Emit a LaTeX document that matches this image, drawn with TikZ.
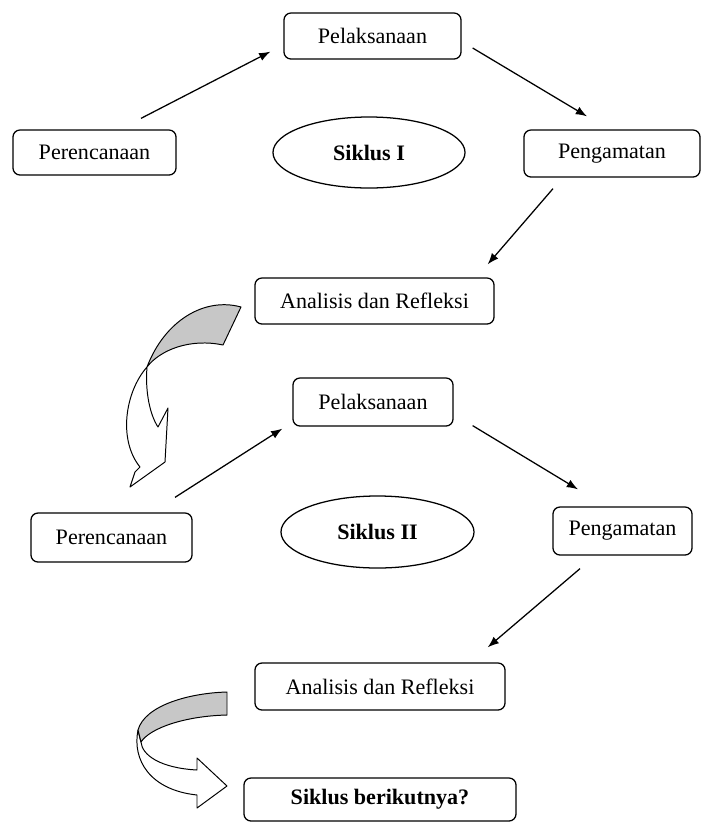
\documentclass[tikz,border=0pt]{standalone}
\usepackage{fontspec}
\setmainfont{Liberation Serif}
\usetikzlibrary{shapes.geometric,arrows.meta}
\tikzset{>={Latex[length=8pt,width=6pt]}}
\tikzset{
  stage/.style={draw,rounded corners=5pt,line width=0.9pt,inner sep=0pt,
    font=\fontsize{15.7}{18}\selectfont},
  siklus/.style={draw,ellipse,line width=0.9pt,inner sep=0pt,
    font=\fontsize{15.7}{18}\selectfont\bfseries},
  flow/.style={->,line width=0.9pt},
  twistgrey/.style={draw,fill=black!22,line width=0.7pt,line join=round},
  twistwhite/.style={draw,fill=white,line width=0.7pt,line join=round}
}

\begin{document}
\begin{tikzpicture}[x=0.025cm,y=-0.025cm]
  \useasboundingbox (0,0) rectangle (702,823);

  % Siklus I
  \node[stage,minimum width=4.425cm,minimum height=1.15cm] (pel1) at (372.5,36) {Pelaksanaan};
  \node[stage,minimum width=4.075cm,minimum height=1.125cm] (ren1) at (94.5,152.5) {Perencanaan};
  \node[siklus,minimum width=4.8cm,minimum height=1.775cm] (sik1) at (369,152.5) {Siklus I};
  \node[stage,minimum width=4.4cm,minimum height=1.175cm] (pen1) at (612,153.5) {Pengamatan};
  \node[stage,minimum width=5.975cm,minimum height=1.15cm] (ana1) at (374.5,301) {Analisis dan Refleksi};

  \draw[flow] ([shift={(46.5,-11)}]ren1.north) -- ([shift={(-13,-8)}]pel1.south west);
  \draw[flow] ([shift={(11,12)}]pel1.east) -- ([shift={(-25,-13)}]pen1.north);
  \draw[flow] ([shift={(-59,11)}]pen1.south) -- ([shift={(-7,-13)}]ana1.north east);

  % Siklus II
  \node[stage,minimum width=4cm,minimum height=1.2cm] (pel2) at (373,402) {Pelaksanaan};
  \node[stage,minimum width=4.025cm,minimum height=1.225cm] (ren2) at (111.5,537.5) {Perencanaan};
  \node[siklus,minimum width=4.825cm,minimum height=1.8cm] (sik2) at (377.5,532) {Siklus II};
  \node[stage,minimum width=3.475cm,minimum height=1.2cm] (pen2) at (622.5,531) {Pengamatan};
  \node[stage,minimum width=6.25cm,minimum height=1.175cm] (ana2) at (380,686.5) {Analisis dan Refleksi};
  \node[stage,minimum width=6.8cm,minimum height=1.075cm,font=\fontsize{15.7}{18}\selectfont\bfseries] (next) at (380,799.5) {Siklus berikutnya?};

  \draw[flow] ([shift={(63.5,-15)}]ren2.north) -- ([shift={(-10,2)}]pel2.south west);
  \draw[flow] ([shift={(19,-1)}]pel2.south east) -- ([shift={(-44.5,-17)}]pen2.north);
  \draw[flow] ([shift={(-42.5,13)}]pen2.south) -- ([shift={(-18,-15)}]ana2.north east);

  % curved arrows
  \draw[twistwhite] (147,367) .. controls (125,392) and (118,440) .. (140,467)
    -- (135,472) -- (130,487) -- (165,462) -- (168,408) -- (158,427)
    .. controls (150,415) and (145,392) .. cycle;
  \draw[twistgrey] (241,307) .. controls (205,297) and (165,320) .. (147,367)
    .. controls (160,350) and (190,338) .. (223,345) -- cycle;

  \draw[twistwhite] (138,730) .. controls (132,760) and (150,790) .. (197,795)
    -- (197,808) -- (227,786) -- (197,758) -- (197,770)
    .. controls (160,768) and (142,755) .. (141,742) -- cycle;
  \draw[twistgrey] (227,692) .. controls (190,693) and (145,705) .. (138,730)
    -- (141,742) .. controls (150,728) and (185,716) .. (227,715) -- cycle;
\end{tikzpicture}
\end{document}
